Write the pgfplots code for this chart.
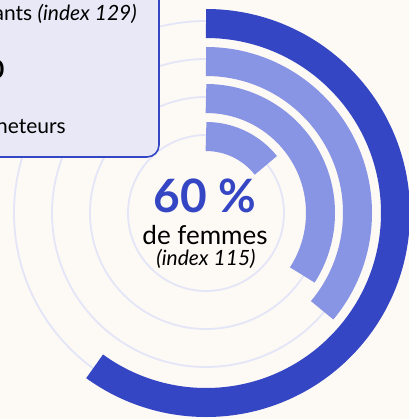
\documentclass[border=0pt]{standalone}
\usepackage{fontspec}
\setmainfont{Lato}
\usepackage{pgfplots}
\pgfplotsset{compat=1.18}

\definecolor{bg}{HTML}{FDF9F5}
\definecolor{dblue}{HTML}{3446C4}
\definecolor{lblue}{HTML}{8894E4}
\definecolor{track}{HTML}{E4E6F7}
\definecolor{boxfill}{HTML}{E8E8F6}

% rings: centre (206,206), radius of the ring middle, share in percent
\pgfplotstableread{
x y r pct
206 206 192 100
206 206 154 100
206 206 116 100
206 206 78 100
}\tracks
\pgfplotstableread{
x y r pct
206 206 189.5 60
}\outer
\pgfplotstableread{
x y r pct
206 206 151.5 36.1
206 206 114.5 34.1
206 206 76.5 14.3
}\inner

\pgfdeclareplotmark{blank}{}
\pgfplotsset{
  ring/.style 2 args={
    scatter, only marks, mark=blank,
    visualization depends on={\thisrow{r} \as \rr},
    visualization depends on={\thisrow{pct} \as \pct},
    scatter/@pre marker code/.code={%
      \draw[line width=#1, draw=#2]
        (0,\rr bp) arc[start angle=90, delta angle=-3.6*\pct, radius=\rr bp];
    },
    scatter/@post marker code/.code={},
  },
}

\begin{document}
\begin{tikzpicture}
\begin{axis}[
  x=1bp, y=1bp,
  xmin=0, xmax=409, ymin=0, ymax=419,
  hide axis, clip=true, clip marker paths=true,
  clip bounding box=upper bound,
]
\fill[bg] (-10,-10) rectangle (420,430);
\addplot[ring={1.8bp}{track}] table[x=x,y=y] {\tracks};
\addplot[ring={29bp}{dblue}] table[x=x,y=y] {\outer};
\addplot[ring={29bp}{lblue}] table[x=x,y=y] {\inner};

\draw[draw=dblue, line width=1.6bp, fill=boxfill, rounded corners=12bp]
  (-30,262) rectangle (159,450);
\node[anchor=base east, inner sep=0pt, font=\fontsize{21bp}{25bp}\selectfont]
  at (137,398) {ants \textit{(index 129)}};
\node[anchor=base east, inner sep=0pt, font=\fontsize{25bp}{30bp}\selectfont\bfseries]
  at (4.5,341) {0};
\node[anchor=base east, inner sep=0pt, font=\fontsize{21bp}{25bp}\selectfont]
  at (66,286) {neteurs};

\node[anchor=base, inner sep=0pt, text=dblue, font=\fontsize{46bp}{50bp}\selectfont\bfseries]
  at (205,207) {60 \%};
\node[anchor=base, inner sep=0pt, font=\fontsize{26bp}{30bp}\selectfont]
  at (205,175) {de femmes};
\node[anchor=base, inner sep=0pt, font=\fontsize{21bp}{25bp}\selectfont\itshape]
  at (206,154) {(index 115)};
\end{axis}
\end{tikzpicture}
\end{document}
